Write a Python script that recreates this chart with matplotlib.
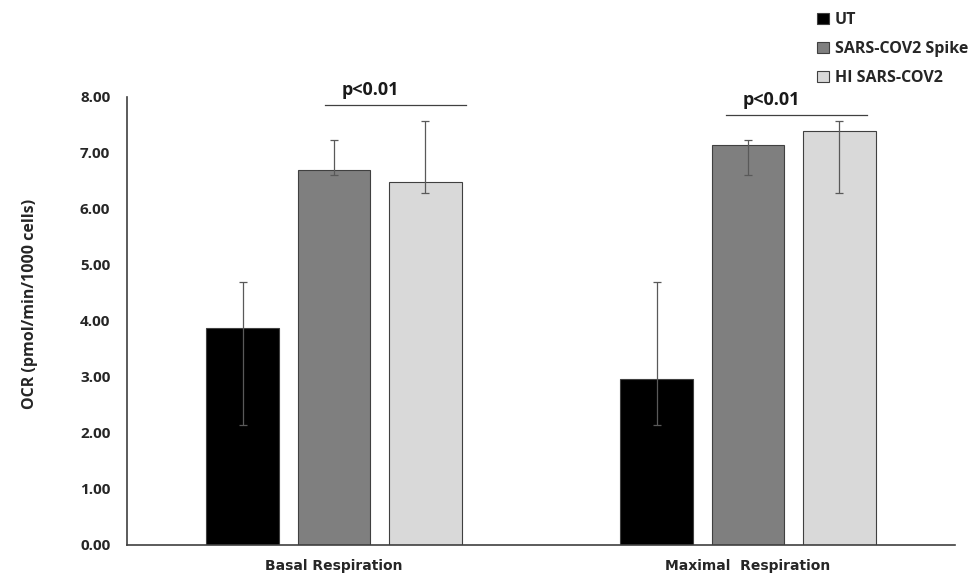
import numpy as np
import matplotlib
matplotlib.use("Agg")
import matplotlib.pyplot as plt

categories = ["Basal Respiration", "Maximal  Respiration"]
groups = ["UT", "SARS-COV2 Spike", "HI SARS-COV2"]
colors = ["#000000", "#7f7f7f", "#d9d9d9"]

# bar heights per group (basal, maximal)
means = {
    "UT": [3.87, 2.97],
    "SARS-COV2 Spike": [6.70, 7.14],
    "HI SARS-COV2": [6.48, 7.39],
}
# error bar ends (low, high)
err_low = {
    "UT": [2.14, 2.14],
    "SARS-COV2 Spike": [6.60, 6.60],
    "HI SARS-COV2": [6.29, 6.29],
}
err_high = {
    "UT": [4.70, 4.70],
    "SARS-COV2 Spike": [7.24, 7.23],
    "HI SARS-COV2": [7.58, 7.58],
}
yticks = [0, 1, 2, 3, 4, 5, 6, 7, 8]
sig_label = "p<0.01"
sig_y = [7.85, 7.67]
sig_x0 = [-0.022, 0.946]
sig_x1 = [0.319, 1.287]
sig_xt = [0.087, 1.057]

fig = plt.figure(figsize=[9.79, 5.78], dpi=100)
ax = fig.add_axes([127/979, 33/578, 828/979, 448/578])

x = np.arange(len(categories))
w = 0.174
step = 0.221
for i, g in enumerate(groups):
    xs = x + (i - 1) * step
    m = np.array(means[g])
    lo = m - np.array(err_low[g])
    hi = np.array(err_high[g]) - m
    ax.bar(xs, m, width=w, color=colors[i], edgecolor="#404040", linewidth=0.8, label=g, zorder=2)
    ax.errorbar(xs, m, yerr=[lo, hi], fmt="none", ecolor="#595959", elinewidth=0.9,
                capsize=3, capthick=0.9, zorder=3)

# significance lines over spike vs HI
for k in range(len(categories)):
    ax.plot([sig_x0[k], sig_x1[k]], [sig_y[k], sig_y[k]], color="#404040", lw=0.9)
    ax.text(sig_xt[k], sig_y[k] + 0.12, sig_label, ha="center", va="bottom",
            fontsize=13, fontweight="bold", family="Open Sans", color="#1a1a1a")

ax.set_xlim(-0.5, 1.5)
ax.set_ylim(0, 8)
ax.set_yticks(yticks)
ax.set_yticklabels(["{:.2f}".format(v) for v in yticks], fontsize=11, fontweight="bold",
                   family="Open Sans", color="#262626")
ax.tick_params(axis="y", length=0, pad=12)
ax.set_xticks(x)
ax.set_xticklabels(categories, fontsize=10, fontweight="bold",
                   family=["Liberation Sans Narrow", "DejaVu Sans"], color="#262626")
ax.tick_params(axis="x", length=0, pad=10)
ax.set_ylabel("OCR (pmol/min/1000 cells)", fontsize=11.5, fontweight="bold", family="Open Sans",
              color="#262626")
ax.yaxis.set_label_coords(-0.107, 0.538)
for s in ["top", "right"]:
    ax.spines[s].set_visible(False)
for s in ["left", "bottom"]:
    ax.spines[s].set_color("#404040")
    ax.spines[s].set_linewidth(1.2)

leg = fig.legend(loc="upper left", bbox_to_anchor=(803/979, 1.0 + 2/578), frameon=False,
                 prop={"family": "Open Sans", "weight": "bold", "size": 11.5},
                 handlelength=0.7, handleheight=0.7, handletextpad=0.4, labelspacing=0.8)
for t in leg.get_texts():
    t.set_color("#262626")

fig.savefig("out.png", dpi=100)
